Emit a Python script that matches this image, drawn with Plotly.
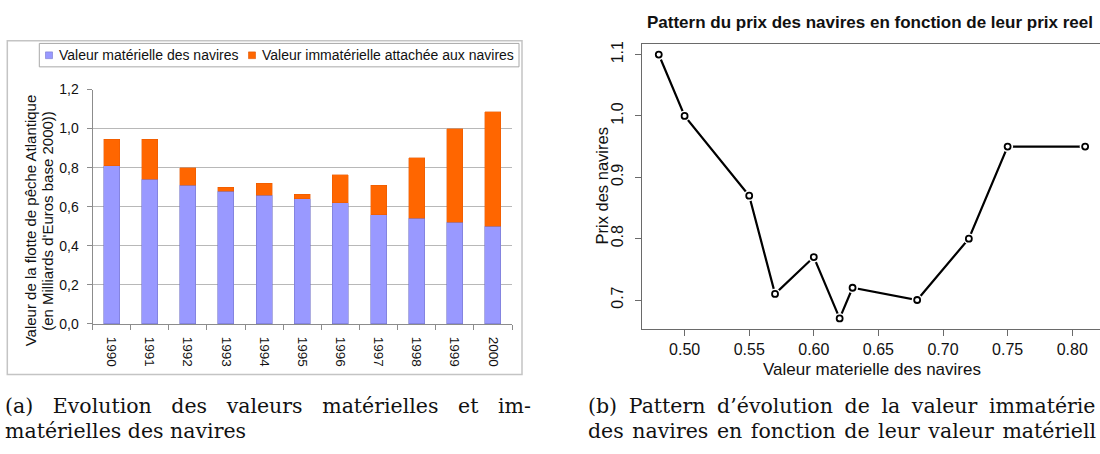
import plotly.graph_objects as go

# ---------------- data ----------------
years = ["1990", "1991", "1992", "1993", "1994", "1995", "1996", "1997", "1998", "1999", "2000"]
valeur_materielle = [0.81, 0.74, 0.71, 0.68, 0.66, 0.64, 0.62, 0.56, 0.54, 0.52, 0.50]
valeur_immaterielle = [0.135, 0.205, 0.09, 0.02, 0.06, 0.025, 0.145, 0.15, 0.31, 0.48, 0.585]
left_tick_vals = [0.0, 0.2, 0.4, 0.6, 0.8, 1.0, 1.2]
left_tick_text = ["0,0", "0,2", "0,4", "0,6", "0,8", "1,0", "1,2"]

prix_reel = [0.48, 0.50, 0.55, 0.57, 0.60, 0.62, 0.63, 0.68, 0.72, 0.75, 0.81]
prix_navires = [1.10, 1.00, 0.87, 0.71, 0.77, 0.67, 0.72, 0.70, 0.80, 0.95, 0.95]
right_x_ticks = [0.50, 0.55, 0.60, 0.65, 0.70, 0.75, 0.80]
right_x_text = ["0.50", "0.55", "0.60", "0.65", "0.70", "0.75", "0.80"]
right_y_ticks = [0.7, 0.8, 0.9, 1.0, 1.1]
right_y_text = ["0.7", "0.8", "0.9", "1.0", "1.1"]

# captions, as visible in the (cropped) reference
caption_a1 = ["(a)", "Evolution", "des", "valeurs", "matérielles", "et", "im-"]
caption_a2 = ["matérielles", "des", "navires"]
caption_b1 = ["(b)", "Pattern", "d’évolution", "de", "la", "valeur", "immatérie"]
caption_b2 = ["des", "navires", "en", "fonction", "de", "leur", "valeur", "matériell"]

W, H = 1100, 454
def px(x):
    return x / W
def py(y):
    return 1 - y / H

SANS = "Liberation Sans, Arial, sans-serif"
SERIF = "DejaVu Serif, serif"
CAP_SIZE = 20.5
PURPLE = "#9999FF"
ORANGE = "#FF6600"
GAP_A1 = " \u00a0\u00a0"
GAP_B1 = " \u2005"
GAP_B2 = " \u200a"

fig = go.Figure()

# ---------------- left: stacked bars ----------------
fig.add_trace(go.Bar(x=years, y=valeur_materielle, name="Valeur matérielle des navires",
                     marker=dict(color=PURPLE, line=dict(color="#7777cc", width=0.6)),
                     xaxis="x", yaxis="y", showlegend=False))
fig.add_trace(go.Bar(x=years, y=valeur_immaterielle, name="Valeur immatérielle attachée aux navires",
                     marker=dict(color=ORANGE, line=dict(color="#e05500", width=0.4)),
                     xaxis="x", yaxis="y", showlegend=False))

# ---------------- right: line with points (R type="b") ----------------
fig.add_trace(go.Scatter(x=prix_reel, y=prix_navires, mode="lines",
                         line=dict(color="black", width=2.2),
                         xaxis="x2", yaxis="y2", showlegend=False, hoverinfo="skip"))
fig.add_trace(go.Scatter(x=prix_reel, y=prix_navires, mode="markers",
                         marker=dict(color="white", size=11, line=dict(width=0)),
                         xaxis="x2", yaxis="y2", showlegend=False, hoverinfo="skip"))
fig.add_trace(go.Scatter(x=prix_reel, y=prix_navires, mode="markers",
                         marker=dict(symbol="circle-open", color="black", size=6, line=dict(width=1.8)),
                         xaxis="x2", yaxis="y2", showlegend=False))

fig.update_layout(
    width=W, height=H,
    margin=dict(l=0, r=0, t=0, b=0),
    paper_bgcolor="white", plot_bgcolor="white",
    barmode="stack", bargap=0.58,
    font=dict(family=SANS, color="#111"),
    xaxis=dict(domain=[px(92.5), px(512)], type="category", anchor="y",
               showline=True, linecolor="#8c8c8c", linewidth=1,
               ticks="outside", tickson="boundaries", ticklen=5, tickcolor="#8c8c8c",
               tickangle=90, tickfont=dict(size=13.5, family=SANS, color="#111"),
               ticklabelstandoff=9,
               showgrid=False, zeroline=False),
    yaxis=dict(domain=[py(327.5), py(84.5)], range=[0, 1.2], anchor="x",
               tickmode="array", tickvals=left_tick_vals, ticktext=left_tick_text,
               showline=True, linecolor="#8c8c8c", linewidth=1,
               ticks="outside", ticklen=5, tickcolor="#8c8c8c",
               ticklabelstandoff=5,
               tickfont=dict(size=14, family=SANS, color="#111"),
               showgrid=True, gridcolor="#b8b8b8", gridwidth=1, zeroline=False),
    xaxis2=dict(domain=[px(641.7), 1.0], range=[0.4668, 0.8215], anchor="y2",
                tickmode="array", tickvals=right_x_ticks, ticktext=right_x_text,
                showline=True, mirror=True, linecolor="#6a6a6a", linewidth=1,
                ticks="outside", ticklen=6, tickcolor="#6a6a6a",
                tickfont=dict(size=16, family=SANS, color="#111"),
                showgrid=False, zeroline=False),
    yaxis2=dict(domain=[py(332.7), py(37.3)], range=[0.6528, 1.1172], anchor="x2",
                tickmode="array", tickvals=right_y_ticks, ticktext=right_y_text,
                showline=True, linecolor="#6a6a6a", linewidth=1,
                ticks="outside", ticklen=6, tickcolor="#6a6a6a", tickangle=-90,
                ticklabelstandoff=5,
                tickfont=dict(size=16, family=SANS, color="#111"),
                showgrid=False, zeroline=False),
)

shapes = [
    # outer frame of left chart
    dict(type="rect", xref="paper", yref="paper", x0=px(7.3), x1=px(522), y0=py(380), y1=py(34),
         line=dict(color="#c4c4c4", width=1.5), fillcolor="rgba(0,0,0,0)", layer="below"),
    # legend frame
    dict(type="rect", xref="paper", yref="paper", x0=px(39.3), x1=px(519), y0=py(61), y1=py(36.7),
         line=dict(color="#a8a8a8", width=1), fillcolor="rgba(0,0,0,0)", layer="below"),
    # legend swatches
    dict(type="rect", xref="paper", yref="paper", x0=px(45.5), x1=px(52.5), y0=py(52.5), y1=py(45.5),
         line=dict(color="#7777cc", width=0.6), fillcolor=PURPLE),
    dict(type="rect", xref="paper", yref="paper", x0=px(248.5), x1=px(255.5), y0=py(52.5), y1=py(45.5),
         line=dict(color="#e05500", width=0.6), fillcolor=ORANGE),
]

annotations = [
    # left legend texts
    dict(text="Valeur matérielle des navires", x=px(56.5), y=py(49), xanchor="left", yanchor="middle",
         font=dict(size=14, family=SANS, color="#111")),
    dict(text="Valeur immatérielle attachée aux navires", x=px(259.5), y=py(49), xanchor="left", yanchor="middle",
         font=dict(size=14, family=SANS, color="#111")),
    # left y title (two lines)
    dict(text="Valeur de la flotte de pêche Atlantique", x=px(30.5), y=py(220.6), textangle=-90,
         xanchor="center", yanchor="middle", font=dict(size=15, family=SANS, color="#111")),
    dict(text="(en Milliards d'Euros base 2000))", x=px(48), y=py(220.6), textangle=-90,
         xanchor="center", yanchor="middle", font=dict(size=15, family=SANS, color="#111")),
    # right chart texts
    dict(text="<b>Pattern du prix des navires en fonction de leur prix reel</b>", x=px(870), y=py(15),
         xanchor="center", yanchor="middle", font=dict(size=17, family=SANS, color="#111")),
    dict(text="Valeur materielle des navires", x=px(871.7), y=py(375), xanchor="center", yanchor="middle",
         font=dict(size=17, family=SANS, color="#111")),
    dict(text="Prix des navires", x=px(602), y=py(185), textangle=-90, xanchor="center", yanchor="middle",
         font=dict(size=16.5, family=SANS, color="#111")),
    # captions
    dict(text=GAP_A1.join(caption_a1), x=px(3), y=py(413), xanchor="left", yanchor="middle",
         font=dict(size=CAP_SIZE, family=SERIF, color="#111")),
    dict(text=" ".join(caption_a2), x=px(3), y=py(438), xanchor="left", yanchor="middle",
         font=dict(size=CAP_SIZE, family=SERIF, color="#111")),
    dict(text=GAP_B1.join(caption_b1), x=px(586), y=py(413), xanchor="left", yanchor="middle",
         font=dict(size=CAP_SIZE, family=SERIF, color="#111")),
    dict(text=GAP_B2.join(caption_b2), x=px(586), y=py(438), xanchor="left", yanchor="middle",
         font=dict(size=CAP_SIZE, family=SERIF, color="#111")),
]
for a in annotations:
    a.update(xref="paper", yref="paper", showarrow=False)

fig.update_layout(shapes=shapes, annotations=annotations)

fig.write_html("out.html", config={"displayModeBar": False},
               post_script="document.body.style.margin='0px';document.body.style.overflow='hidden';")
